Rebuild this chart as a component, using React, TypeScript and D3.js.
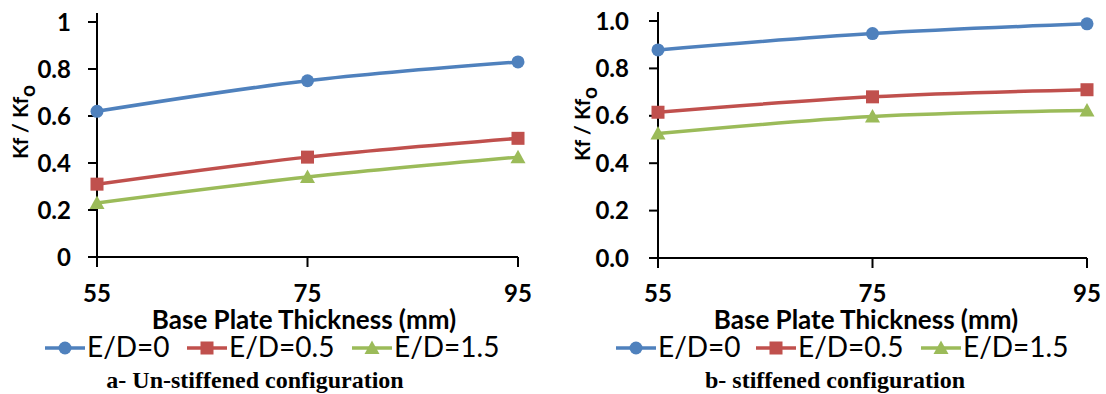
import React from "react";
import * as d3 from "d3";

const thickness = [55, 75, 95];
const seriesNames = ["E/D=0", "E/D=0.5", "E/D=1.5"];
const unstiffED0 = [0.62, 0.75, 0.83];
const unstiffED05 = [0.31, 0.425, 0.505];
const unstiffED15 = [0.23, 0.34, 0.425];
const stiffED0 = [0.878, 0.947, 0.988];
const stiffED05 = [0.615, 0.68, 0.71];
const stiffED15 = [0.525, 0.597, 0.622];
const yTicksA = [0, 0.2, 0.4, 0.6, 0.8, 1];
const yTickLabelsA = ["0", "0.2", "0.4", "0.6", "0.8", "1"];
const yTicksB = [0, 0.2, 0.4, 0.6, 0.8, 1.0];
const yTickLabelsB = ["0.0", "0.2", "0.4", "0.6", "0.8", "1.0"];
const colors = ["#4F81BD", "#C0504D", "#9BBB59"];
const markers = ["circle", "square", "triangle"];

const FONT = "Lato, 'Open Sans', sans-serif";

function Marker({ type, x, y, color }: { type: string; x: number; y: number; color: string }) {
  if (type === "circle") return <circle cx={x} cy={y} r={6.5} fill={color} />;
  if (type === "square") return <rect x={x - 6.5} y={y - 6.5} width={13} height={13} fill={color} />;
  return <path d={`M${x},${y - 7.5}L${x + 7.5},${y + 6}L${x - 7.5},${y + 6}Z`} fill={color} />;
}

type PanelProps = {
  x0: number; x1: number; y0: number; y1: number;
  data: number[][]; ticks: number[]; tickLabels: string[]; labelGap: number;
  titleX: number; ytitleX: number; ytitleY: number; legendX: number[]; caption: string; captionX: number;
};

function Panel(p: PanelProps) {
  const x = d3.scaleLinear().domain([55, 95]).range([p.x0, p.x1]);
  const y = d3.scaleLinear().domain([0, 1]).range([p.y0, p.y1]);
  const line = d3.line<number>().x((_, i) => x(thickness[i])).y((d) => y(d)).curve(d3.curveCatmullRom.alpha(0.5));
  return (
    <g>
      <line x1={p.x0} x2={p.x0} y1={p.y1 - 9} y2={p.y0} stroke="#000" strokeWidth={2} />
      <line x1={p.x0} x2={p.x1} y1={p.y0} y2={p.y0} stroke="#000" strokeWidth={2} />
      {p.ticks.map((t, i) => (
        <g key={"yt" + i}>
          <line x1={p.x0 - 9} x2={p.x0} y1={y(t)} y2={y(t)} stroke="#000" strokeWidth={2} />
          <text x={p.x0 - p.labelGap} y={y(t) + 8.5} textAnchor="end" fontFamily={FONT} fontWeight="bold" fontSize={24} fill="#000">
            {p.tickLabels[i]}
          </text>
        </g>
      ))}
      {thickness.map((t) => (
        <g key={"xt" + t}>
          <line x1={x(t)} x2={x(t)} y1={p.y0} y2={p.y0 + 10} stroke="#000" strokeWidth={2} />
          <text x={x(t)} y={302} textAnchor="middle" fontFamily={FONT} fontWeight="bold" fontSize={24} fill="#000">
            {t}
          </text>
        </g>
      ))}
      <text x={p.titleX} y={329} textAnchor="middle" fontFamily={FONT} fontWeight="bold" fontSize={26} fill="#000">
        Base Plate Thickness (mm)
      </text>
      <text transform={`translate(${p.ytitleX},${p.ytitleY}) rotate(-90)`} textAnchor="middle" fontFamily={FONT} fontWeight="bold" fontSize={21} fill="#000">
        Kf / Kf<tspan dy={7}>o</tspan>
      </text>
      {p.data.map((s, si) => (
        <g key={"s" + si}>
          <path d={line(s) || ""} fill="none" stroke={colors[si]} strokeWidth={3.5} />
          {s.map((v, i) => (
            <Marker key={i} type={markers[si]} x={x(thickness[i])} y={y(v)} color={colors[si]} />
          ))}
        </g>
      ))}
      {seriesNames.map((n, si) => (
        <g key={"l" + si}>
          <line x1={p.legendX[si]} x2={p.legendX[si] + 40} y1={348} y2={348} stroke={colors[si]} strokeWidth={3.5} />
          <Marker type={markers[si]} x={p.legendX[si] + 20} y={348} color={colors[si]} />
          <text x={p.legendX[si] + 42} y={357} fontFamily={FONT} fontSize={28} fill="#000">
            {n}
          </text>
        </g>
      ))}
      <text x={p.captionX} y={388} textAnchor="middle" fontFamily="'Liberation Serif', 'Times New Roman', serif" fontWeight="bold" fontSize={24} fill="#000">
        {p.caption}
      </text>
    </g>
  );
}

export default function App() {
  return (
    <svg width={1106} height={394} style={{ position: "absolute", left: 0, top: 0, background: "#fff" }}>
      <rect width={1106} height={394} fill="#fff" />
      <Panel x0={97} x1={518} y0={257} y1={22} data={[unstiffED0, unstiffED05, unstiffED15]}
        ticks={yTicksA} tickLabels={yTickLabelsA} labelGap={26} titleX={304} ytitleX={28} ytitleY={122}
        legendX={[45, 187, 352]} caption="a- Un-stiffened configuration" captionX={255} />
      <Panel x0={658} x1={1087} y0={258} y1={21} data={[stiffED0, stiffED05, stiffED15]}
        ticks={yTicksB} tickLabels={yTickLabelsB} labelGap={29} titleX={866} ytitleX={590} ytitleY={124}
        legendX={[616, 756, 921]} caption="b- stiffened configuration" captionX={835} />
    </svg>
  );
}
